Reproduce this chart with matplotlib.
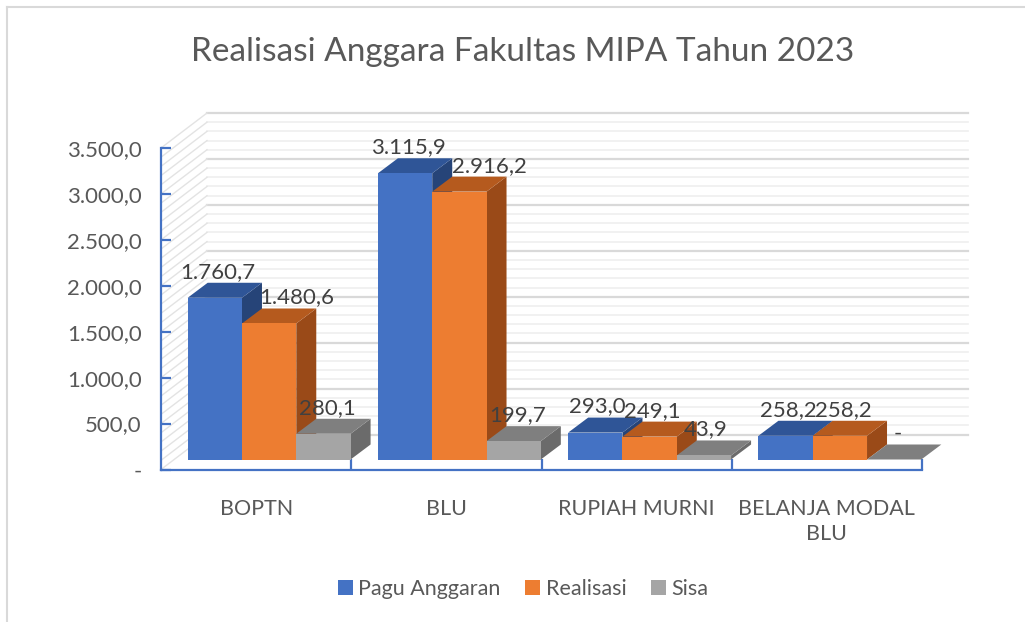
import matplotlib
matplotlib.use('Agg')
import matplotlib.pyplot as plt
from matplotlib.patches import Polygon, Patch
from matplotlib.lines import Line2D

categories = ['BOPTN', 'BLU', 'RUPIAH MURNI', 'BELANJA MODAL\nBLU']
series = ['Pagu Anggaran', 'Realisasi', 'Sisa']
pagu = [1760.7, 3115.9, 293.0, 258.2]
realisasi = [1480.6, 2916.2, 249.1, 258.2]
sisa = [280.1, 199.7, 43.9, 0.0]
yticks = [0, 500, 1000, 1500, 2000, 2500, 3000, 3500]

front = ['#4472C4', '#ED7D31', '#A5A5A5']
top = ['#2F5597', '#B55A1E', '#7F7F7F']
side = ['#264478', '#9A4A18', '#6B6B6B']
# label nudges in pixels (Excel moved some labels sideways)
nudge = [[3, 28, 4], [3, 30, 4], [2, 3, 2], [3, 3, 4]]


def fmt(v):
    if v == 0:
        return '-'
    s = f'{v:,.1f}'
    return s.replace(',', 'X').replace('.', ',').replace('X', '.')


plt.rcParams['font.family'] = ['Lato', 'DejaVu Sans']
W, H = 1025, 622
fig = plt.figure(figsize=(W / 100, H / 100), dpi=100)
ax = fig.add_axes([161 / W, 1 - 469.5 / H, 761 / W, 321.5 / H])
ax.set_xlim(-0.5, 3.5)
ax.set_ylim(0, 3500)

# pixel -> data unit factors
ux = 4 / 761
uy = 3500 / 321.5


def off(px, py):
    return px * ux, py * uy


# walls: back wall gridlines and left wall diagonals
wx, wy = off(46, 35)
for v in range(0, 3501, 100):
    major = v % 500 == 0
    c = '#D9D9D9' if major else '#EFEFEF'
    lw = 1.6 if major else 1.2
    ax.add_line(Line2D([-0.5 + wx, 3.5 + wx], [v + wy, v + wy], color=c, lw=lw,
                       clip_on=False, zorder=0))
    ax.add_line(Line2D([-0.5, -0.5 + wx], [v, v + wy], color='#E3E3E3', lw=1.0,
                       clip_on=False, zorder=0))

fx, fy = off(13, 10)
dx, dy = off(20, 15)
bw = 54.3 * ux
vals = [pagu, realisasi, sisa]
for i in range(len(categories)):
    for j in range(3):
        h = vals[j][i]
        x0 = i - 1.5 * bw + j * bw + fx
        x1 = x0 + bw
        b = fy
        t = h + fy
        ax.add_patch(Polygon([(x1, b), (x1 + dx, b + dy), (x1 + dx, t + dy), (x1, t)],
                             closed=True, fc=side[j], ec='none', clip_on=False, zorder=2))
        ax.add_patch(Polygon([(x0, t), (x1, t), (x1 + dx, t + dy), (x0 + dx, t + dy)],
                             closed=True, fc=top[j], ec='none', clip_on=False, zorder=2))
        if h > 0:
            ax.bar(x0, h, width=bw, bottom=b, align='edge', color=front[j],
                   clip_on=False, zorder=2)
        lx = (x0 + x1) / 2 + nudge[i][j] * ux
        ly = t + dy + 1 * uy
        ax.text(lx, ly, fmt(h), ha='center', va='bottom', fontsize=16,
                color='#404040', zorder=5, clip_on=False)

axis_c = '#4472C4'
for s in ['top', 'right']:
    ax.spines[s].set_visible(False)
for s in ['left', 'bottom']:
    ax.spines[s].set_color(axis_c)
    ax.spines[s].set_linewidth(1.6)
    ax.spines[s].set_zorder(4)

ax.set_yticks(yticks)
ax.set_yticklabels([fmt(v) for v in yticks])
ax.tick_params(axis='y', direction='in', length=7, width=1.6, color=axis_c,
               labelsize=16, labelcolor='#595959', pad=14)
ax.set_xticks([0.5, 1.5, 2.5, 3.5])
ax.set_xticklabels([])
ax.tick_params(axis='x', which='major', direction='in', length=8, width=1.6,
               color=axis_c)
ax.set_xticks(range(len(categories)), minor=True)
ax.set_xticklabels(categories, minor=True)
ax.tick_params(axis='x', which='minor', length=0, labelsize=15.5,
               labelcolor='#595959', pad=21)
for lab in ax.get_xticklabels(minor=True):
    lab.set_linespacing(1.35)

fig.text(523 / W, 1 - 52 / H, 'Realisasi Anggara Fakultas MIPA Tahun 2023',
         ha='center', va='center', fontsize=24, color='#595959')

handles = [Patch(fc=front[k], ec='none', label=series[k]) for k in range(3)]
fig.legend(handles=handles, loc='center', bbox_to_anchor=(523 / W, 1 - 589 / H),
           ncol=3, frameon=False, fontsize=15.5, labelcolor='#595959',
           handlelength=0.7, handleheight=0.7, handletextpad=0.25,
           columnspacing=1.15)

# chart area border (left and top edges visible)
fig.add_artist(Line2D([7 / W, 7 / W], [0, 1 - 7 / H], color='#D9D9D9', lw=1.5))
fig.add_artist(Line2D([7 / W, 1], [1 - 7 / H, 1 - 7 / H], color='#D9D9D9', lw=1.5))

fig.savefig('out.png', dpi=100)
